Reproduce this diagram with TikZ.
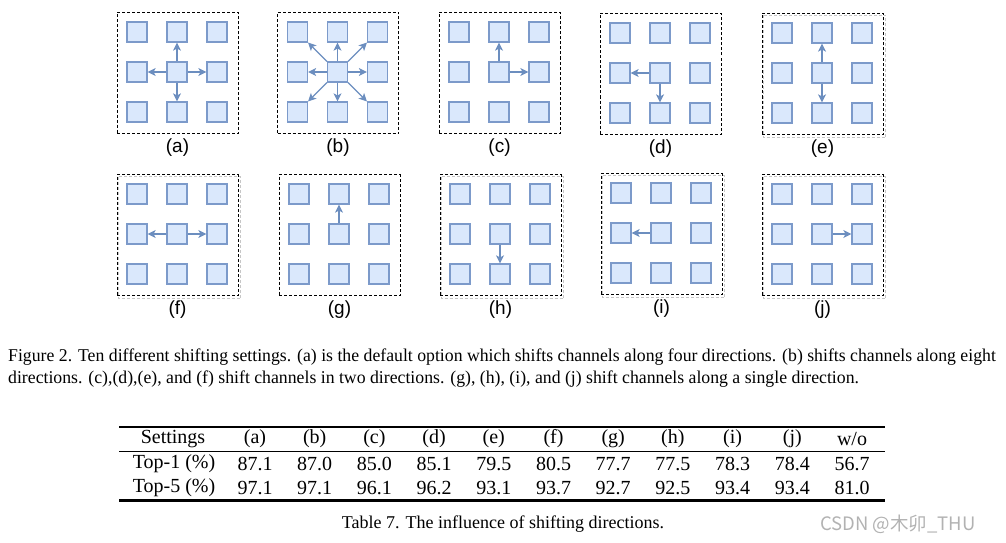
\documentclass[tikz,border=0pt]{standalone}
\usepackage{fontspec}
\setmainfont{Liberation Serif}
\newfontfamily\labelfont{Liberation Sans}
\newfontfamily\markfont{Noto Sans CJK SC}
\usetikzlibrary{arrows.meta}

\definecolor{cellfill}{HTML}{DAE8FC}
\definecolor{cellline}{HTML}{7C9ACA}
\definecolor{arrowline}{HTML}{6C8EBF}

\tikzset{
  cell/.style={draw=cellline, fill=cellfill, line width=1.2pt, minimum size=20pt, inner sep=0pt},
  panelbox/.style={draw, dash pattern=on 3pt off 2pt, line width=1pt, minimum size=121pt, inner sep=0pt},
  panelshadow/.style={draw=gray!45, dash pattern=on 3pt off 2pt, line width=1pt},
  shiftarrow/.style={draw=arrowline, line width=1.2pt, -{Stealth[length=8pt, width=8pt, inset=2pt]}},
  sublabel/.style={font=\labelfont\fontsize{19}{22}\selectfont, inner sep=0pt},
  tabcell/.style={font=\fontsize{20}{24}\selectfont, inner sep=0pt},
}

% one 3x3 panel: name, left edge, top edge
\newcommand{\shiftpanel}[3]{%
  \node[panelbox] (#1) at (#2+60.5, #3+61) {};
  \foreach \r in {0,1,2}
    \foreach \c in {0,1,2}
      \node[cell] (#1-\r\c) at (#2+20+40*\c, #3+20+40*\r) {};
  \node[sublabel] (#1-label) at (#2+60.5, #3+136) {(#1)};
}
% faint offset copy of a panel frame
\newcommand{\panelshade}[1]{%
  \draw[panelshadow] ([shift={(2,2.5)}]#1.north west) rectangle ([shift={(2,2.5)}]#1.south east);
}

\begin{document}
\begin{tikzpicture}[x=1pt, y=-1pt]
    \useasboundingbox (0,0) rectangle (1006,543);

    % Top row of panels
    \shiftpanel{a}{117}{12}
    \shiftpanel{b}{277.5}{12}
    \shiftpanel{c}{439}{12}
    \shiftpanel{d}{600}{13}
    \shiftpanel{e}{762}{13}
    % Bottom row of panels
    \shiftpanel{f}{117}{174}
    \shiftpanel{g}{279}{174}
    \shiftpanel{h}{440}{174}
    \shiftpanel{i}{601}{173}
    \shiftpanel{j}{762}{174}
    \foreach \p in {e,f,h,i,j} {
        \panelshade{\p}
    }

    % (a) four directions
    \foreach \t in {01,10,12,21}
        \draw[shiftarrow] (a-11) -- (a-\t);
    % (b) eight directions
    \foreach \t in {00,01,02,10,12,20,21,22}
        \draw[shiftarrow] (b-11) -- (b-\t);
    % (c)-(f) two directions
    \draw[shiftarrow] (c-11) -- (c-01);
    \draw[shiftarrow] (c-11) -- (c-12);
    \draw[shiftarrow] (d-11) -- (d-10);
    \draw[shiftarrow] (d-11) -- (d-21);
    \draw[shiftarrow] (e-11) -- (e-01);
    \draw[shiftarrow] (e-11) -- (e-21);
    \draw[shiftarrow] (f-11) -- (f-10);
    \draw[shiftarrow] (f-11) -- (f-12);
    % (g)-(j) single direction
    \draw[shiftarrow] (g-11) -- (g-01);
    \draw[shiftarrow] (h-11) -- (h-21);
    \draw[shiftarrow] (i-11) -- (i-10);
    \draw[shiftarrow] (j-11) -- (j-12);

    % Figure caption
    \node[anchor=north west, align=left, inner sep=0pt, font=\fontsize{18}{22}\selectfont] (figcap) at (8,349)
        {\scalebox{0.985}[1]{Figure 2. Ten different shifting settings. (a) is the default option which shifts channels along four directions. (b) shifts channels along eight}\\
         \scalebox{0.985}[1]{directions. (c),(d),(e), and (f) shift channels in two directions. (g), (h), (i), and (j) shift channels along a single direction.}};

    % Table
    \draw[line width=2.5pt] (119,427) -- (885,427);
    \draw[line width=1pt] (119,451) -- (885,451);
    \draw[line width=2.5pt] (119,500.5) -- (885,500.5);
    \node[tabcell] (head-0) at (173,439) {Settings};
    \foreach \s [count=\i] in {a,b,c,d,e,f,g,h,i,j}
        \node[tabcell] (head-\i) at ({195.3+59.7*\i},439) {(\s)};
    \node[tabcell] (head-11) at (852,439) {w/o};
    \node[tabcell] (top1-0) at (174,464) {Top-1 (\%)};
    \foreach \v [count=\i] in {87.1,87.0,85.0,85.1,79.5,80.5,77.7,77.5,78.3,78.4,56.7}
        \node[tabcell] (top1-\i) at ({195.3+59.7*\i},464) {\v};
    \node[tabcell] (top5-0) at (174,488) {Top-5 (\%)};
    \foreach \v [count=\i] in {97.1,97.1,96.1,96.2,93.1,93.7,92.7,92.5,93.4,93.4,81.0}
        \node[tabcell] (top5-\i) at ({195.3+59.7*\i},488) {\v};

    % Table caption and watermark
    \node[font=\fontsize{18}{22}\selectfont, inner sep=0pt] (tabcap) at (503,524) {Table 7. The influence of shifting directions.};
    \node[font=\markfont\fontsize{18.5}{22}\selectfont, text=gray!60, inner sep=0pt] (mark) at (898,524) {CSDN @木卯\_THU};
\end{tikzpicture}
\end{document}
